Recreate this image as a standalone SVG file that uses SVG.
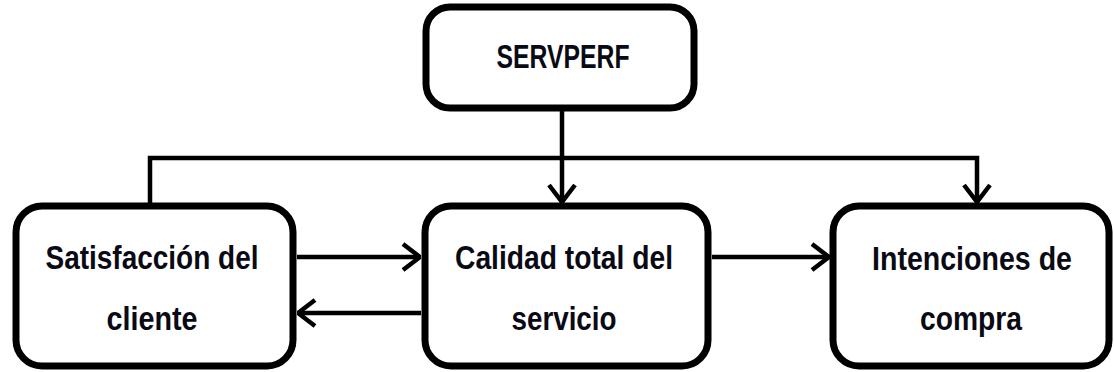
<svg xmlns="http://www.w3.org/2000/svg" width="1114" height="372" viewBox="0 0 1114 372">
<style>
.box{fill:#fff;stroke:#000;stroke-width:7}
.lbl{font-family:"Liberation Sans",Arial,sans-serif;font-weight:bold;font-size:33px;fill:#0a0a14;text-anchor:middle}
.con{fill:none;stroke:#000;stroke-width:4.5}
</style>
<defs>
<marker id="arr" viewBox="0 0 20 30" refX="19" refY="15" markerWidth="20" markerHeight="30" markerUnits="userSpaceOnUse" orient="auto">
<path d="M2,2 L19,15 L2,28" fill="none" stroke="#000" stroke-width="4.5"/>
</marker>
</defs>
<rect width="1114" height="372" fill="#fff"/>
<g id="connectors">
<path class="con" d="M562,110 V202" marker-end="url(#arr)"/>
<path class="con" d="M150,204 V158 H977 V202" marker-end="url(#arr)"/>
<path class="con" d="M297,257 H420" marker-end="url(#arr)"/>
<path class="con" d="M421,313 H298" marker-end="url(#arr)"/>
<path class="con" d="M712,257 H829" marker-end="url(#arr)"/>
</g>
<g id="servperf">
<rect class="box" x="426" y="7" width="268" height="101" rx="24"/>
<text class="lbl" x="563" y="68" font-size="32" textLength="133" lengthAdjust="spacingAndGlyphs">SERVPERF</text>
</g>
<g id="satisfaccion">
<rect class="box" x="16" y="206" width="277" height="160" rx="26"/>
<text class="lbl" x="152" y="269" textLength="213" lengthAdjust="spacingAndGlyphs">Satisfacción del</text>
<text class="lbl" x="152" y="330" textLength="91" lengthAdjust="spacingAndGlyphs">cliente</text>
</g>
<g id="calidad">
<rect class="box" x="425" y="206" width="283" height="160" rx="26"/>
<text class="lbl" x="564" y="269" textLength="218" lengthAdjust="spacingAndGlyphs">Calidad total del</text>
<text class="lbl" x="564" y="330" textLength="105" lengthAdjust="spacingAndGlyphs">servicio</text>
</g>
<g id="intenciones">
<rect class="box" x="833" y="206" width="276" height="160" rx="26"/>
<text class="lbl" x="972" y="270" textLength="200" lengthAdjust="spacingAndGlyphs">Intenciones de</text>
<text class="lbl" x="971" y="330" textLength="102" lengthAdjust="spacingAndGlyphs">compra</text>
</g>
</svg>
